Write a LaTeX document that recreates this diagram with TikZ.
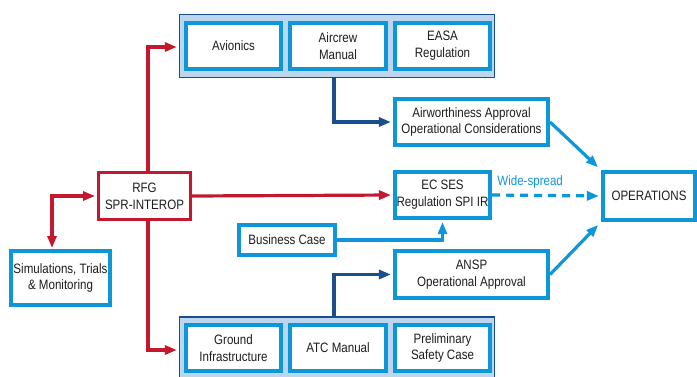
\documentclass[tikz,border=0pt]{standalone}
\usepackage{fontspec}
\setmainfont{Liberation Sans}[FakeStretch=0.85]
\usetikzlibrary{arrows.meta,positioning}
\definecolor{cred}{HTML}{C3182E}
\definecolor{cblue}{HTML}{0E97D8}
\definecolor{cdark}{HTML}{1A4F8B}
\definecolor{cfill}{HTML}{BDD6EF}
\definecolor{ctext}{HTML}{1E1C1D}
\tikzset{
  box/.style={draw=cblue, line width=3.6pt, fill=white, inner sep=0pt, align=center,
    text=ctext, font=\fontsize{13.6}{16.8}\selectfont},
  redbox/.style={box, draw=cred, line width=3.4pt},
  group/.style={draw=cdark, line width=1.3pt, fill=cfill, inner sep=0pt},
  tip/.style={-{Triangle[length=12pt,width=9pt]}, shorten >=2pt},
  redline/.style={draw=cred, line width=3.2pt},
  darkline/.style={draw=cdark, line width=3.2pt},
  blueline/.style={draw=cblue, line width=3.2pt},
}
\begin{document}
\begin{tikzpicture}[x=1pt,y=-1pt]
\useasboundingbox (0,0) rectangle (697,376);
% groups
\node[group, minimum width=315pt, minimum height=63pt] (topgroup) at (337,46) {};
\node[group, minimum width=315pt, minimum height=63pt] (botgroup) at (337,348.5) {};
% top inner boxes
\node[box, minimum width=95.5pt, minimum height=46.5pt] (avionics) at (233.5,46) {Avionics};
\node[box, minimum width=96.5pt, minimum height=46.5pt] (aircrew) at (338,46) {Aircrew\\Manual};
\node[box, minimum width=95.5pt, minimum height=46.5pt] (easa) at (442.5,46) {EASA\\Regulation};
% bottom inner boxes
\node[box, minimum width=95.5pt, minimum height=46.5pt] (ground) at (233.5,348) {Ground\\Infrastructure};
\node[box, minimum width=96.5pt, minimum height=46.5pt] (atc) at (338,348) {ATC Manual};
\node[box, minimum width=95.5pt, minimum height=46.5pt] (prelim) at (442.5,348) {Preliminary\\Safety Case};
% other boxes
\node[redbox, minimum width=91.5pt, minimum height=46.5pt] (rfg) at (144.5,196) {RFG\\SPR-INTEROP};
\node[box, minimum width=99.5pt, minimum height=54.5pt] (sim) at (60.5,278) {Simulations, Trials\\\& Monitoring};
\node[box, minimum width=153.5pt, minimum height=46.5pt] (airw) at (471.5,122) {Airworthiness Approval\\Operational Considerations};
\node[box, minimum width=95.5pt, minimum height=46.5pt] (ecses) at (442.5,195) {EC SES\\Regulation SPI IR};
\node[box, minimum width=92.5pt, minimum height=48.5pt] (ops) at (649,196) {OPERATIONS};
\node[box, minimum width=96.5pt, minimum height=30.5pt] (business) at (287,240) {Business Case};
\node[box, minimum width=153.5pt, minimum height=47.5pt] (ansp) at (471.5,274.5) {ANSP\\Operational Approval};
% coordinates
\coordinate (rtop) at (148,47);
\coordinate (rbot) at (148,350);
\coordinate (simtop) at (52,249);
\coordinate (dtop) at (334,78);
\coordinate (dbot) at (334,317);
% red connectors
\draw[redline, tip] (rfg.north -| rtop) |- (topgroup.west |- rtop);
\draw[redline, tip] (rfg.south -| rbot) |- (botgroup.west |- rbot);
\draw[redline, tip] (rfg.east) -- (ecses.west);
\draw[redline, {Triangle[length=12pt,width=9pt]}-{Triangle[length=12pt,width=9pt]}, shorten <=2pt, shorten >=1pt] (rfg.west) -| (simtop);
% dark blue connectors
\draw[darkline, tip] (dtop) |- (airw.west);
\draw[darkline, tip] (dbot) |- (ansp.west);
% light blue connectors
\draw[blueline, tip] (business.east) -| (ecses.south);
\draw[blueline, tip, shorten >=4pt] (airw.east) -- (ops.north west);
\draw[blueline, tip, shorten >=4pt] (ansp.east) -- (ops.south west);
\draw[blueline, tip, dash pattern=on 8pt off 6pt] (ecses.east) -- (ops.west)
  node[pos=0.35, above=2pt, text=cblue, font=\fontsize{13.6}{16.6}\selectfont] (wide) {Wide-spread};
\end{tikzpicture}
\end{document}
